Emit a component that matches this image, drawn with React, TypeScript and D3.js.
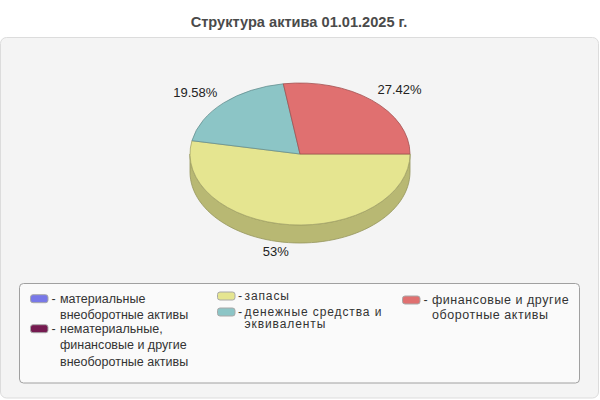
import { useEffect, useRef } from 'react'
import * as d3 from 'd3'

// Slice data (drawn in order, starting at 3 o'clock, clockwise)
const SLICE_LABELS = ['запасы', 'денежные средства и эквиваленты', 'финансовые и другие оборотные активы']
const SLICE_VALUES = [53, 19.58, 27.42]
const SLICE_TEXT = ['53%', '19.58%', '27.42%']
const SLICE_COLORS = ['#e5e590', '#8cc5c6', '#e07070']
const SIDE_COLORS = ['#b8b873', '#6f9d9e', '#b35959']

// Legend entries: column, lines, color
const LEGEND_COLUMNS = [0, 0, 1, 1, 2]
const LEGEND_LINES = [
  ['материальные', 'внеоборотные активы'],
  ['нематериальные,', 'финансовые и другие', 'внеоборотные активы'],
  ['запасы'],
  ['денежные средства и', 'эквиваленты'],
  ['финансовые и другие', 'оборотные активы'],
]
const LEGEND_COLORS = ['#7878e8', '#751a50', '#e5e590', '#8cc5c6', '#e07070']

const TITLE = 'Структура актива 01.01.2025 г.'

export default function App() {
  const svgRef = useRef<SVGSVGElement>(null)
  const width = 600
  const height = 400

  useEffect(() => {
    if (!svgRef.current) return
    const svg = d3.select(svgRef.current)
    svg.selectAll('*').remove()

    const font = '"Liberation Sans", Arial, sans-serif'

    svg.append('rect')
      .attr('width', width).attr('height', height).attr('fill', '#fff')

    // Title
    svg.append('text')
      .attr('x', 299).attr('y', 26.5)
      .attr('text-anchor', 'middle')
      .attr('font-family', font)
      .attr('font-size', 14.6)
      .attr('font-weight', 'bold')
      .attr('fill', '#4a4a4a')
      .text(TITLE)

    // Panel
    svg.append('rect')
      .attr('x', 0.5).attr('y', 37.5)
      .attr('width', 598).attr('height', 360.5)
      .attr('rx', 6)
      .attr('fill', '#f4f4f4')
      .attr('stroke', '#dcdcdc')

    // Pie geometry
    const cx = 300, cy = 154, rx = 110, ry = 71, depth = 18
    const pie = d3.pie<number>().sort(null).startAngle(0).endAngle(2 * Math.PI)
    const arcs = pie(SLICE_VALUES)

    // screen angle: 0 at 3 o'clock, clockwise
    const ex = (a: number, r = rx) => cx + r * Math.cos(a)
    const ey = (a: number, r = ry) => cy + r * Math.sin(a)

    const g = svg.append('g')

    // Side walls (front half only)
    arcs.forEach((a, i) => {
      const s = Math.max(a.startAngle, 0)
      const e = Math.min(a.endAngle, Math.PI)
      if (e <= s) return
      const steps = d3.range(0, 61).map(k => s + (e - s) * k / 60)
      const top = steps.map(t => [ex(t), ey(t)] as [number, number])
      const bottom = steps.slice().reverse().map(t => [ex(t), ey(t) + depth] as [number, number])
      g.append('path')
        .attr('d', d3.line()([...top, ...bottom]) + 'Z')
        .attr('fill', SIDE_COLORS[i])
        .attr('stroke', d3.color(SIDE_COLORS[i])!.darker(0.6).formatHex())
        .attr('stroke-width', 0.8)
    })

    // Top faces
    const arcGen = d3.arc<d3.PieArcDatum<number>>().innerRadius(0).outerRadius(rx)
    g.append('g')
      .attr('transform', `translate(${cx},${cy}) scale(1,${ry / rx})`)
      .selectAll('path')
      .data(arcs)
      .join('path')
      .attr('d', d => arcGen({ ...d, startAngle: d.startAngle + Math.PI / 2, endAngle: d.endAngle + Math.PI / 2 }))
      .attr('fill', (_, i) => SLICE_COLORS[i])
      .attr('stroke', (_, i) => d3.color(SLICE_COLORS[i])!.darker(0.9).formatHex())
      .attr('stroke-width', 0.8)
      .attr('vector-effect', 'non-scaling-stroke')
      .append('title')
      .text((_, i) => SLICE_LABELS[i])

    // Labels
    svg.append('g')
      .selectAll('text')
      .data(arcs)
      .join('text')
      .attr('x', d => {
        const m = (d.startAngle + d.endAngle) / 2
        return ex(m, rx + 9)
      })
      .attr('y', d => {
        const m = (d.startAngle + d.endAngle) / 2
        const s = Math.sin(m)
        return ey(m, ry + 14) + (s > 0 ? depth * 0.7 * s : 0)
      })
      .attr('text-anchor', d => Math.cos((d.startAngle + d.endAngle) / 2) < 0 ? 'end' : 'start')
      .attr('dominant-baseline', 'central')
      .attr('font-family', font)
      .attr('font-size', 13)
      .attr('fill', '#222')
      .text((_, i) => SLICE_TEXT[i])

    // Legend box
    svg.append('rect')
      .attr('x', 19.5).attr('y', 283.5)
      .attr('width', 560).attr('height', 99.5)
      .attr('rx', 4)
      .attr('fill', '#fafafa')
      .attr('stroke', '#a0a0a0')

    const colX = [30.5, 217.5, 402.5]
    const colSpacing = [0, 0.6, 0.55]
    const colTextX = [29.5, 27, 29.5]
    const lineH = [16.6, 16.6, 16, 12, 15]
    const itemTop: number[] = []
    const colCursor = [298.7, 296, 300]
    LEGEND_LINES.forEach((lines, i) => {
      const c = LEGEND_COLUMNS[i]
      itemTop.push(colCursor[c])
      colCursor[c] += lines.length * lineH[i] - (c === 0 ? 3.2 : 0)
    })

    const items = svg.append('g')
      .selectAll('g')
      .data(LEGEND_LINES)
      .join('g')
      .attr('transform', (_, i) => `translate(${colX[LEGEND_COLUMNS[i]]},${itemTop[i]})`)

    items.append('rect')
      .attr('x', 0).attr('y', -4)
      .attr('width', 17.5).attr('height', 8)
      .attr('rx', 2.5)
      .attr('fill', (_, i) => LEGEND_COLORS[i])
      .attr('stroke', '#a8a8a8')
      .attr('stroke-width', 1)

    items.append('text')
      .attr('x', (_, i) => LEGEND_COLUMNS[i] === 1 ? 20.5 : 21)
      .attr('y', 0)
      .attr('dominant-baseline', 'central')
      .attr('font-family', font)
      .attr('font-size', 12.5)
      .attr('fill', '#333')
      .text('-')

    items.each(function (lines, i) {
      const c = LEGEND_COLUMNS[i]
      d3.select(this).selectAll('text.line')
        .data(lines)
        .join('text')
        .attr('class', 'line')
        .attr('x', colTextX[c])
        .attr('y', (_, k) => k * lineH[i])
        .attr('dominant-baseline', 'central')
        .attr('font-family', font)
        .attr('font-size', c === 1 ? 12 : 12.5)
        .attr('letter-spacing', c === 1 ? 0.9 : colSpacing[c])
        .attr('fill', '#333')
        .text(d => d)
    })
  }, [])

  return (
    <div style={{ position: 'fixed', left: 0, top: 0, width, height }}>
      <svg ref={svgRef} width={width} height={height} />
    </div>
  )
}
